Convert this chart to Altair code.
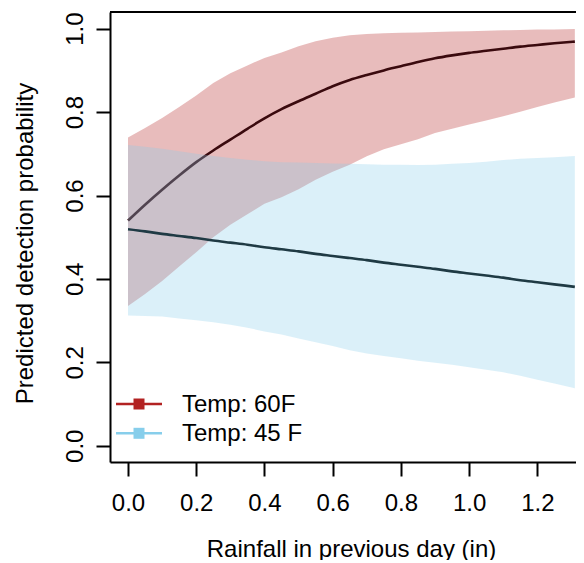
import altair as alt
import pandas as pd

FONT = "Liberation Sans"

# Rainfall (in) sample points
x_vals = [0.0, 0.05, 0.1, 0.15, 0.2, 0.25, 0.3, 0.35, 0.4, 0.45, 0.5, 0.55, 0.6, 0.65,
          0.7, 0.75, 0.8, 0.85, 0.9, 0.95, 1.0, 1.05, 1.1, 1.15, 1.2, 1.25, 1.31]

# Temp 60F
t60_mean = [0.540, 0.578, 0.614, 0.648, 0.680, 0.708, 0.734, 0.760, 0.785, 0.807, 0.826, 0.844, 0.862, 0.877,
            0.889, 0.900, 0.910, 0.920, 0.929, 0.936, 0.942, 0.947, 0.952, 0.957, 0.961, 0.965, 0.969]
t60_hi = [0.739, 0.762, 0.786, 0.812, 0.840, 0.870, 0.893, 0.912, 0.930, 0.943, 0.958, 0.970, 0.978, 0.984,
          0.987, 0.989, 0.990, 0.991, 0.992, 0.993, 0.994, 0.995, 0.996, 0.997, 0.998, 0.998, 0.999]
t60_lo = [0.335, 0.364, 0.395, 0.430, 0.464, 0.500, 0.530, 0.555, 0.580, 0.596, 0.615, 0.638, 0.657, 0.674,
          0.694, 0.711, 0.723, 0.735, 0.750, 0.760, 0.770, 0.780, 0.790, 0.801, 0.812, 0.823, 0.835]

# Temp 45 F
t45_mean = [0.519, 0.514, 0.508, 0.503, 0.498, 0.492, 0.487, 0.482, 0.476, 0.471, 0.466, 0.460, 0.455, 0.450,
            0.445, 0.439, 0.434, 0.429, 0.424, 0.418, 0.413, 0.408, 0.403, 0.397, 0.392, 0.387, 0.381]
t45_hi = [0.721, 0.717, 0.712, 0.706, 0.700, 0.695, 0.690, 0.686, 0.682, 0.680, 0.679, 0.678, 0.677, 0.676,
          0.675, 0.674, 0.674, 0.673, 0.674, 0.676, 0.678, 0.681, 0.685, 0.688, 0.690, 0.692, 0.695]
t45_lo = [0.312, 0.311, 0.310, 0.305, 0.301, 0.296, 0.290, 0.283, 0.274, 0.267, 0.257, 0.248, 0.239, 0.229,
          0.221, 0.215, 0.210, 0.204, 0.199, 0.194, 0.188, 0.182, 0.176, 0.168, 0.158, 0.149, 0.138]

x_ticks = [0.0, 0.2, 0.4, 0.6, 0.8, 1.0, 1.2]
y_ticks = [0.0, 0.2, 0.4, 0.6, 0.8, 1.0]

legend_labels = ["Temp: 60F", "Temp: 45 F"]
legend_colors = ["#B22222", "#87CEEB"]

df60 = pd.DataFrame({"x": x_vals, "mean": t60_mean, "lo": t60_lo, "hi": t60_hi})
df45 = pd.DataFrame({"x": x_vals, "mean": t45_mean, "lo": t45_lo, "hi": t45_hi})

W, H = 466, 450

x_axis = alt.Axis(values=x_ticks, format=".1f", grid=False, tickSize=14, tickWidth=2, tickColor="black",
                  domainColor="black", domainWidth=2, labelFont=FONT, labelFontSize=24, labelColor="black",
                  labelPadding=34, labelBaseline="alphabetic", labelFlush=False, labelOverlap=False,
                  title="Rainfall in previous day (in)", titleFont=FONT, titleFontSize=24,
                  titleFontWeight="normal", titleColor="black", titleX=241, titleY=94,
                  titleAlign="center", titleBaseline="alphabetic")
y_axis = alt.Axis(values=y_ticks, format=".1f", grid=False, tickSize=14, tickWidth=2, tickColor="black",
                  domainColor="black", domainWidth=2, labelFont=FONT, labelFontSize=24, labelColor="black",
                  labelAngle=270, labelAlign="center", labelBaseline="alphabetic", labelPadding=14,
                  labelFlush=False, labelOverlap=False,
                  title="Predicted detection probability", titleFont=FONT, titleFontSize=24,
                  titleFontWeight="normal", titleColor="black", titleAngle=270, titleX=-78, titleY=231,
                  titleAlign="center", titleBaseline="alphabetic")

xs = alt.Scale(domain=[-0.0528, 1.3134], nice=False, zero=False)
ys = alt.Scale(domain=[-0.039, 1.040], nice=False, zero=False)
X = alt.X("x:Q", scale=xs, axis=x_axis)


def band(df, color):
    return alt.Chart(df).mark_area(fill=color, fillOpacity=0.3).encode(
        x=X, y=alt.Y("lo:Q", scale=ys, axis=y_axis), y2="hi:Q")


def line(df, color):
    return alt.Chart(df).mark_line(color=color, strokeWidth=2.6, interpolate="monotone").encode(
        x=X, y=alt.Y("mean:Q", scale=ys, axis=y_axis))


top_rule = alt.Chart(pd.DataFrame({"v": [0]})).mark_rule(color="black", strokeWidth=2).encode(
    x=alt.value(0), x2=alt.value(W), y=alt.value(0))

plot = alt.layer(
    band(df60, "#B22222"),
    line(df60, "#3A0A0E"),
    band(df45, "#87CEEB"),
    line(df45, "#1F3A44"),
    top_rule,
)

leg = pd.DataFrame({"label": legend_labels, "color": legend_colors})
ly = alt.Y("label:N", scale=alt.Scale(type="point", domain=legend_labels, range=[392, 421.3], padding=0),
           axis=None)
leg_rule = alt.Chart(leg).mark_rule(strokeWidth=2.6).encode(
    x=alt.value(6), x2=alt.value(52), y=ly, color=alt.Color("color:N", scale=None))
leg_sq = alt.Chart(leg).mark_square(size=121, opacity=1, filled=True).encode(
    x=alt.value(29), y=ly, color=alt.Color("color:N", scale=None))
leg_tx = alt.Chart(leg).mark_text(align="left", baseline="alphabetic", dy=8, fontSize=24, font=FONT,
                                  color="black").encode(x=alt.value(72), y=ly, text="label:N")
legend = alt.layer(leg_rule, leg_sq, leg_tx)

chart = alt.layer(plot, legend).resolve_scale(y="independent").properties(
    width=W, height=H,
    padding={"left": 102, "top": 4, "right": 0, "bottom": 98},
    autosize=alt.AutoSizeParams(type="none"),
).configure_view(stroke=None)

chart.save("out.html", embed_options={"renderer": "svg", "actions": False})
